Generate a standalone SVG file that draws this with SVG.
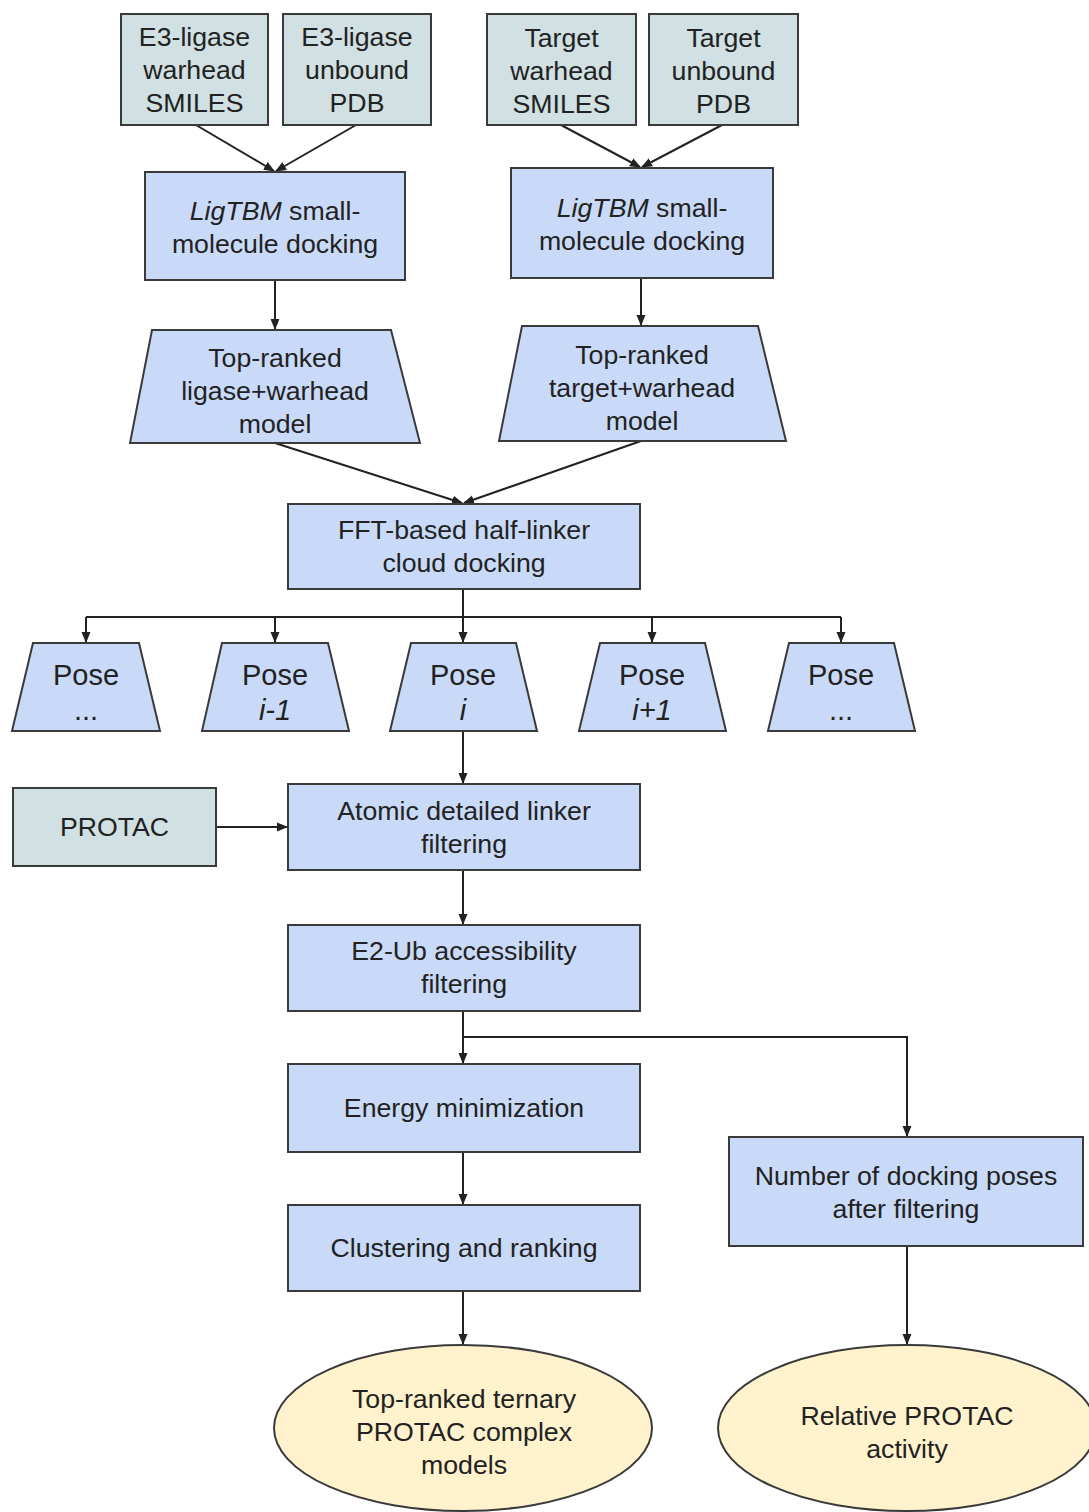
<svg xmlns="http://www.w3.org/2000/svg" width="1089" height="1512" viewBox="0 0 1089 1512">
<defs>
<marker id="ah" markerWidth="11" markerHeight="11" refX="10" refY="5.5" orient="auto" markerUnits="userSpaceOnUse">
<path d="M0,1 L11,5.5 L0,10 Z" fill="#222"/>
</marker>
<style>
.in{fill:#d0e0e3;stroke:#3a3a3a;stroke-width:2}
.pr{fill:#c9daf8;stroke:#3a3a3a;stroke-width:2}
.out{fill:#fff2cc;stroke:#3a3a3a;stroke-width:2}
text{font-family:"Liberation Sans",Arial,sans-serif;font-size:26.7px;fill:#222;text-anchor:middle}
.it{font-style:italic}
.ps{font-size:29px}
.c{fill:none;stroke:#222;stroke-width:2}
.ca{fill:none;stroke:#222;stroke-width:2;marker-end:url(#ah)}
</style>
</defs>
<rect width="1089" height="1512" fill="#fff"/>
<g id="connectors">
<line class="ca" x1="196" y1="125" x2="274" y2="171"/>
<line class="ca" x1="356" y1="125" x2="276" y2="171"/>
<line class="ca" x1="561" y1="125" x2="640" y2="167"/>
<line class="ca" x1="722" y1="125" x2="642" y2="167"/>
<line class="ca" x1="275" y1="280" x2="275" y2="329"/>
<line class="ca" x1="641" y1="278" x2="641" y2="325"/>
<line class="ca" x1="275" y1="443" x2="462" y2="503"/>
<line class="ca" x1="641" y1="441" x2="464" y2="503"/>
<line class="c" x1="463" y1="589" x2="463" y2="617"/>
<line class="c" x1="86" y1="617" x2="841" y2="617"/>
<line class="ca" x1="86" y1="617" x2="86" y2="642"/>
<line class="ca" x1="275" y1="617" x2="275" y2="642"/>
<line class="ca" x1="463" y1="617" x2="463" y2="642"/>
<line class="ca" x1="652" y1="617" x2="652" y2="642"/>
<line class="ca" x1="841" y1="617" x2="841" y2="642"/>
<line class="ca" x1="463" y1="731" x2="463" y2="783"/>
<line class="ca" x1="216" y1="827" x2="287" y2="827"/>
<line class="ca" x1="463" y1="870" x2="463" y2="924"/>
<line class="ca" x1="463" y1="1011" x2="463" y2="1063"/>
<polyline class="ca" points="463,1037 907,1037 907,1136"/>
<line class="ca" x1="463" y1="1152" x2="463" y2="1204"/>
<line class="ca" x1="463" y1="1291" x2="463" y2="1344"/>
<line class="ca" x1="907" y1="1246" x2="907" y2="1344"/>
</g>
<g id="e3-warhead"><rect class="in" x="121" y="14" width="147" height="111"/><text x="194.5" y="46">E3-ligase</text><text x="194.5" y="79">warhead</text><text x="194.5" y="112">SMILES</text></g>
<g id="e3-pdb"><rect class="in" x="283" y="14" width="148" height="111"/><text x="357" y="46">E3-ligase</text><text x="357" y="79">unbound</text><text x="357" y="112">PDB</text></g>
<g id="t-warhead"><rect class="in" x="487" y="14" width="149" height="111"/><text x="561.5" y="47">Target</text><text x="561.5" y="80">warhead</text><text x="561.5" y="113">SMILES</text></g>
<g id="t-pdb"><rect class="in" x="649" y="14" width="149" height="111"/><text x="723.5" y="47">Target</text><text x="723.5" y="80">unbound</text><text x="723.5" y="113">PDB</text></g>
<g id="ligtbm-left"><rect class="pr" x="145" y="172" width="260" height="108"/><text x="275" y="220"><tspan class="it">LigTBM</tspan> small-</text><text x="275" y="253">molecule docking</text></g>
<g id="ligtbm-right"><rect class="pr" x="511" y="168" width="262" height="110"/><text x="642" y="217"><tspan class="it">LigTBM</tspan> small-</text><text x="642" y="250">molecule docking</text></g>
<g id="top-ligase"><polygon class="pr" points="152,330 391,330 420,443 130,443"/><text x="275" y="367">Top-ranked</text><text x="275" y="400">ligase+warhead</text><text x="275" y="433">model</text></g>
<g id="top-target"><polygon class="pr" points="522,326 758,326 786,441 499,441"/><text x="642" y="364">Top-ranked</text><text x="642" y="397">target+warhead</text><text x="642" y="430">model</text></g>
<g id="fft"><rect class="pr" x="288" y="504" width="352" height="85"/><text x="464" y="539">FFT-based half-linker</text><text x="464" y="572">cloud docking</text></g>
<g id="pose-a"><polygon class="pr" points="33,643 139,643 160,731 12,731"/><text class="ps" x="86" y="685">Pose</text><text class="ps" x="86" y="720">...</text></g>
<g id="pose-im1"><polygon class="pr" points="222,643 328,643 349,731 202,731"/><text class="ps" x="275" y="685">Pose</text><text class="ps it" x="275" y="720">i-1</text></g>
<g id="pose-i"><polygon class="pr" points="411,643 516,643 537,731 390,731"/><text class="ps" x="463" y="685">Pose</text><text class="ps it" x="463" y="720">i</text></g>
<g id="pose-ip1"><polygon class="pr" points="600,643 705,643 726,731 579,731"/><text class="ps" x="652" y="685">Pose</text><text class="ps it" x="652" y="720">i+1</text></g>
<g id="pose-b"><polygon class="pr" points="789,643 894,643 915,731 768,731"/><text class="ps" x="841" y="685">Pose</text><text class="ps" x="841" y="720">...</text></g>
<g id="protac"><rect class="in" x="13" y="788" width="203" height="78"/><text x="114.5" y="836">PROTAC</text></g>
<g id="atomic"><rect class="pr" x="288" y="784" width="352" height="86"/><text x="464" y="820">Atomic detailed linker</text><text x="464" y="853">filtering</text></g>
<g id="e2ub"><rect class="pr" x="288" y="925" width="352" height="86"/><text x="464" y="960">E2-Ub accessibility</text><text x="464" y="993">filtering</text></g>
<g id="energy"><rect class="pr" x="288" y="1064" width="352" height="88"/><text x="464" y="1117">Energy minimization</text></g>
<g id="clustering"><rect class="pr" x="288" y="1205" width="352" height="86"/><text x="464" y="1257">Clustering and ranking</text></g>
<g id="number"><rect class="pr" x="729" y="1137" width="354" height="109"/><text x="906" y="1185">Number of docking poses</text><text x="906" y="1218">after filtering</text></g>
<g id="top-models"><ellipse class="out" cx="463" cy="1428" rx="189" ry="83"/><text x="464" y="1408">Top-ranked ternary</text><text x="464" y="1441">PROTAC complex</text><text x="464" y="1474">models</text></g>
<g id="activity"><ellipse class="out" cx="907" cy="1428" rx="189" ry="83"/><text x="907" y="1425">Relative PROTAC</text><text x="907" y="1458">activity</text></g>
</svg>
